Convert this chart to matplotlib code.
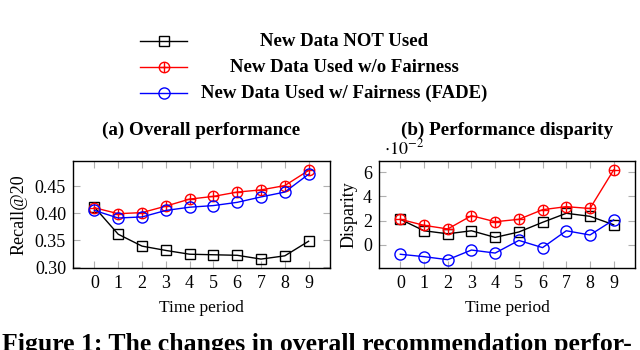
import matplotlib
matplotlib.use("Agg")
import matplotlib.pyplot as plt

plt.rcParams['font.family'] = ['Liberation Serif', 'DejaVu Serif']
plt.rcParams['mathtext.fontset'] = 'stix'

# data
periods = [0, 1, 2, 3, 4, 5, 6, 7, 8, 9]
names = ['New Data NOT Used', 'New Data Used w/o Fairness',
         'New Data Used w/ Fairness (FADE)']

recall_not_used = [0.411, 0.361, 0.339, 0.331, 0.324, 0.323, 0.322, 0.315, 0.321, 0.348]
recall_no_fair = [0.410, 0.399, 0.401, 0.413, 0.426, 0.431, 0.439, 0.443, 0.451, 0.479]
recall_fade = [0.405, 0.391, 0.393, 0.405, 0.411, 0.414, 0.420, 0.430, 0.439, 0.472]

# disparity, in units of 1e-2
disp_not_used = [2.1, 1.15, 0.9, 1.15, 0.6, 1.05, 1.85, 2.6, 2.35, 1.65]
disp_no_fair = [2.1, 1.6, 1.3, 2.4, 1.9, 2.1, 2.9, 3.15, 3.0, 6.2]
disp_fade = [-0.8, -1.0, -1.25, -0.45, -0.7, 0.35, -0.25, 1.15, 0.8, 2.05]

colors = ['black', 'red', 'blue']
W, H = 640, 350
fig = plt.figure(figsize=(6.4, 3.5), dpi=100)


def draw_series(ax, x, y, i, **kw):
    if i == 0:
        ax.plot(x, y, color=colors[i], lw=1.0, marker='s', ms=7.5, mfc='none', mew=1.0, **kw)
    elif i == 1:
        ax.plot(x, y, color=colors[i], lw=1.0, marker='o', ms=7.5, mfc='none', mew=1.0, **kw)
        ax.plot(x, y, color=colors[i], lw=0, marker='+', ms=7.5, mew=1.0, **kw)
    else:
        ax.plot(x, y, color=colors[i], lw=1.0, marker='o', ms=8, mfc='none', mew=1.0, **kw)


def style(ax):
    ax.set_xlim(-0.9, 9.9)
    ax.set_xticks(periods)
    ax.tick_params(direction='in', top=True, right=True, length=5, width=0.8,
                   color='#b0b0b0', labelsize=13, pad=5)
    for s in ax.spines.values():
        s.set_linewidth(1.0)
    ax.set_xlabel('Time period', fontsize=12.5, labelpad=6)


def box(l, t, r, b):
    return [l / W, 1 - b / H, (r - l) / W, (b - t) / H]


ax1 = fig.add_axes(box(73, 161, 330, 268))
for i, ys in enumerate([recall_not_used, recall_no_fair, recall_fade]):
    draw_series(ax1, periods, ys, i)
style(ax1)
ax1.set_ylim(0.2985, 0.4965)
ax1.set_yticks([0.30, 0.35, 0.40, 0.45])
ax1.set_yticklabels(['0.30', '0.35', '0.40', '0.45'])
ax1.set_ylabel('Recall@20', fontsize=13, labelpad=5)
ax1.set_title('(a) Overall performance', fontsize=13.8, fontweight='bold', pad=19)

ax2 = fig.add_axes(box(379, 161, 635, 268))
for i, ys in enumerate([disp_not_used, disp_no_fair, disp_fade]):
    draw_series(ax2, periods, ys, i)
style(ax2)
ax2.set_ylim(-1.94, 6.94)
ax2.set_yticks([0, 2, 4, 6])
ax2.set_ylabel('Disparity', fontsize=13, labelpad=4)
ax2.set_title('(b) Performance disparity', fontsize=13.8, fontweight='bold', pad=19)
ax2.text(0.02, 1.02, r'$\cdot 10^{-2}$', transform=ax2.transAxes, fontsize=13,
         ha='left', va='bottom')

# legend drawn by hand so the labels can be centred like the original
lax = fig.add_axes([0, 0, 1, 1])
lax.set_xlim(0, W)
lax.set_ylim(H, 0)
lax.axis('off')
rows = [41, 67, 93]
for i, name in enumerate(names):
    lax.plot([140, 187], [rows[i], rows[i]], color=colors[i], lw=1.0)
    draw_series(lax, [163.5], [rows[i]], i)
    lax.text(344, rows[i], name, fontsize=13.5, fontweight='bold', ha='center', va='center')

fig.text(2 / W, 1 - 333 / H, 'Figure 1: The changes in overall recommendation perfor-',
         fontsize=18.5, fontweight='bold', ha='left', va='top')

fig.savefig('out.png', dpi=100)
